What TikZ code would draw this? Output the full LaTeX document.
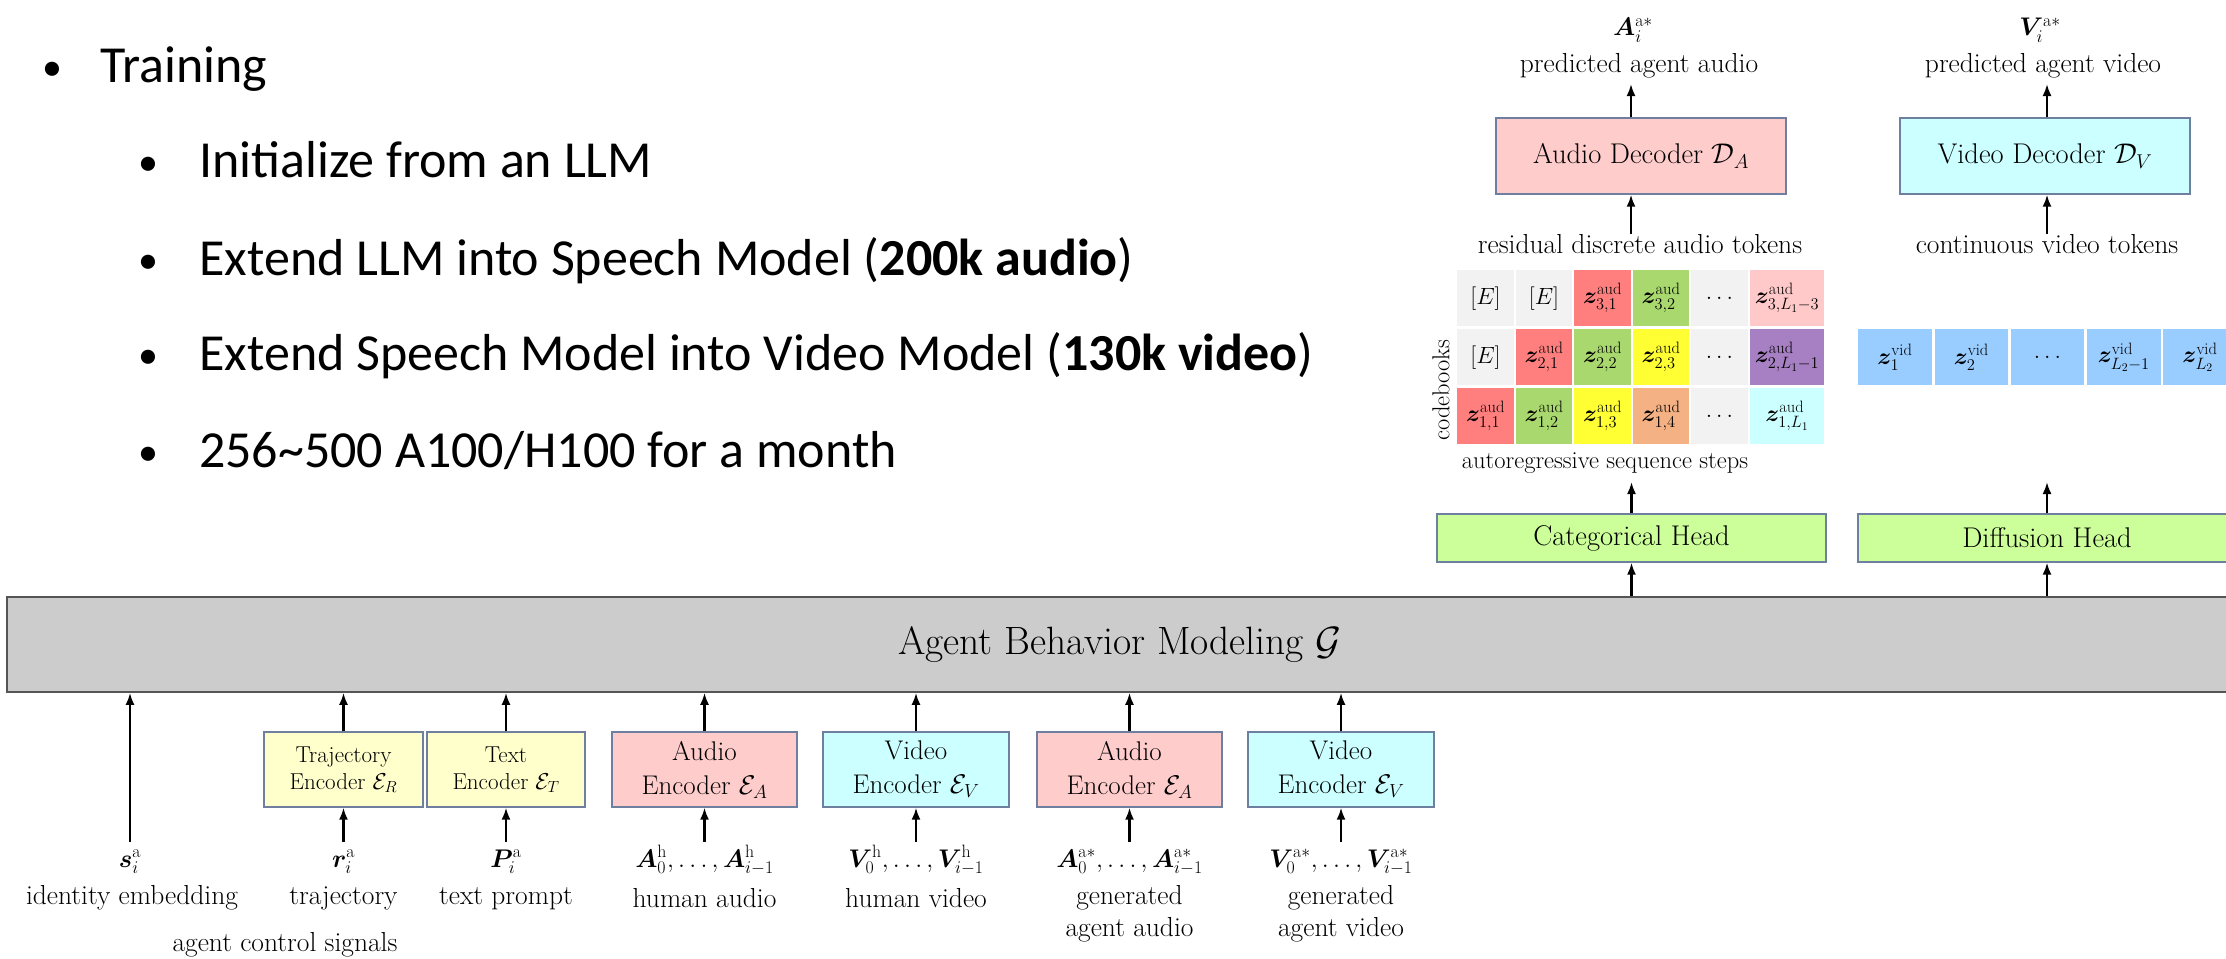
\RequirePackage{fix-cm}
\documentclass[tikz,border=0pt]{standalone}
\usepackage{amsmath}
\usepackage{bm}
\usepackage{fontspec}
\newfontfamily\slidefont{Carlito}
\usetikzlibrary{arrows.meta}

\definecolor{audpink}{HTML}{FFCCCC}
\definecolor{vidcyan}{HTML}{CCFFFF}
\definecolor{encyellow}{HTML}{FFFFCC}
\definecolor{headgreen}{HTML}{CCFF99}
\definecolor{bargray}{HTML}{CCCCCC}
\definecolor{baredge}{HTML}{555555}
\definecolor{boxedge}{HTML}{6F7F9F}
\definecolor{cellgray}{HTML}{F2F2F2}
\definecolor{cellred}{HTML}{FF7F7F}
\definecolor{cellgreen}{HTML}{A9D86E}
\definecolor{cellyellow}{HTML}{FFFF33}
\definecolor{cellorange}{HTML}{F4B183}
\definecolor{cellpink}{HTML}{FFC9C9}
\definecolor{cellpurple}{HTML}{A77FC3}
\definecolor{cellcyan}{HTML}{CCFFFF}
\definecolor{cellblue}{HTML}{99CCFF}

\newcommand{\labelfont}{\fontsize{27.5}{32}\selectfont}
\newcommand{\mathlabelfont}{\fontsize{25.5}{30}\selectfont}
\newcommand{\boxfont}{\fontsize{28.5}{34}\selectfont}
\newcommand{\encfont}{\fontsize{27}{34}\selectfont}
\newcommand{\trajfont}{\fontsize{23}{27}\selectfont}
\newcommand{\gridfont}{\fontsize{24.5}{28}\selectfont}
\newcommand{\cellfont}{\fontsize{23.5}{28}\selectfont}
\newcommand{\barfont}{\fontsize{39.5}{46}\selectfont}
\newcommand{\bulletfont}{\fontsize{52}{62}\selectfont\slidefont}
\newcommand{\dotfont}{\fontsize{40}{48}\selectfont\slidefont}

\begin{document}
\begin{tikzpicture}[x=1pt,y=-1pt,
  arr/.style={-{Latex[length=12pt,width=9pt]},line width=2.2pt},
  lbl/.style={anchor=base,font=\labelfont,inner sep=0pt},
  mlbl/.style={anchor=base,font=\mathlabelfont,inner sep=0pt},
  modbox/.style={draw=boxedge,line width=1.3pt,inner sep=0pt,align=center,font=\boxfont},
  encbox/.style={modbox,minimum height=75pt,font=\encfont},
  cell/.style={anchor=north west,inner sep=0pt,minimum width=56.5pt,minimum height=56pt,font=\cellfont},
  widecell/.style={cell,minimum width=74.5pt},
  vidcell/.style={anchor=north west,inner sep=0pt,minimum width=73.5pt,minimum height=56pt,font=\cellfont,fill=cellblue},
  bulletitem/.style={anchor=base west,inner sep=0pt,font=\bulletfont},
  bulletdot/.style={anchor=base,inner sep=0pt,font=\dotfont}]

\clip (0,0) rectangle (2226,958);
\fill[white] (0,0) rectangle (2226,958);

% ---------------- bullet list ----------------
\node[bulletdot] (d0) at (52,80) {\textbullet};
\node[bulletitem] (t0) at (100,82) {Training};
\node[bulletdot] (d1) at (148,175) {\textbullet};
\node[bulletitem] (t1) at (199,177) {Initialize from an LLM};
\node[bulletdot] (d2) at (148,273) {\textbullet};
\node[bulletitem] (t2) at (199,275) {Extend LLM into Speech Model (\textbf{200k audio})};
\node[bulletdot] (d3) at (148,368) {\textbullet};
\node[bulletitem] (t3) at (199,370) {Extend Speech Model into Video Model (\textbf{130k video})};
\node[bulletdot] (d4) at (148,465) {\textbullet};
\node[bulletitem] (t4) at (199,467) {256\textasciitilde500 A100/H100 for a month};

% ---------------- backbone ----------------
\node[draw=baredge,line width=1.6pt,fill=bargray,minimum width=2226pt,minimum height=95pt,
      inner sep=0pt,font=\barfont] (abm) at (1120,644.5) {Agent Behavior Modeling $\mathcal{G}$};

% ---------------- input encoders ----------------
\node[encbox,fill=encyellow,minimum width=159pt,font=\trajfont] (trajenc) at (343.5,769.5) {Trajectory\\Encoder $\mathcal{E}_R$};
\node[encbox,fill=encyellow,minimum width=158pt,font=\trajfont] (textenc) at (506,769.5) {Text\\Encoder $\mathcal{E}_T$};
\node[encbox,fill=audpink,minimum width=185pt] (audenca) at (704.5,769.5) {Audio\\Encoder $\mathcal{E}_A$};
\node[encbox,fill=vidcyan,minimum width=186pt] (videnca) at (916,769.5) {Video\\Encoder $\mathcal{E}_V$};
\node[encbox,fill=audpink,minimum width=185pt] (audencb) at (1129.5,769.5) {Audio\\Encoder $\mathcal{E}_A$};
\node[encbox,fill=vidcyan,minimum width=186pt] (videncb) at (1341,769.5) {Video\\Encoder $\mathcal{E}_V$};

% ---------------- input labels ----------------
\node[mlbl] (sid) at (130,867) {$\bm{s}_i^{\mathrm{a}}$};
\node[lbl] (sidtxt) at (132,904) {identity embedding};
\node[mlbl] (rtraj) at (343.5,867) {$\bm{r}_i^{\mathrm{a}}$};
\node[lbl] (rtrajtxt) at (343.5,904) {trajectory};
\node[mlbl] (ptext) at (506,867) {$\bm{P}_i^{\mathrm{a}}$};
\node[lbl] (ptexttxt) at (506,904) {text prompt};
\node[mlbl] (ahum) at (704.5,867) {$\bm{A}_0^{\mathrm{h}},\ldots,\bm{A}_{i-1}^{\mathrm{h}}$};
\node[lbl] (ahumtxt) at (704.5,907) {human audio};
\node[mlbl] (vhum) at (916,867) {$\bm{V}_0^{\mathrm{h}},\ldots,\bm{V}_{i-1}^{\mathrm{h}}$};
\node[lbl] (vhumtxt) at (916,907) {human video};
\node[mlbl] (agen) at (1129.5,867) {$\bm{A}_0^{\mathrm{a}*},\ldots,\bm{A}_{i-1}^{\mathrm{a}*}$};
\node[lbl] (agentxt) at (1129.5,904) {generated};
\node[lbl] (agentxtb) at (1129.5,936) {agent audio};
\node[mlbl] (vgen) at (1341,867) {$\bm{V}_0^{\mathrm{a}*},\ldots,\bm{V}_{i-1}^{\mathrm{a}*}$};
\node[lbl] (vgentxt) at (1341,904) {generated};
\node[lbl] (vgentxtb) at (1341,936) {agent video};
\node[lbl] (ctrl) at (285,951) {agent control signals};

% arrow tails just above the input labels
\coordinate (sidin) at (130,842);
\coordinate (trajin) at (343.5,842);
\coordinate (textin) at (506,842);
\coordinate (audina) at (704.5,842);
\coordinate (vidina) at (916,842);
\coordinate (audinb) at (1129.5,842);
\coordinate (vidinb) at (1341,842);

\draw[arr] (sidin) -- (sidin |- abm.south);
\foreach \e/\i in {trajenc/trajin,textenc/textin,audenca/audina,videnca/vidina,audencb/audinb,videncb/vidinb}{
  \draw[arr] (\i) -- (\e.south);
  \draw[arr] (\e.north) -- (\e.north |- abm.south);
}

% ---------------- output heads ----------------
\node[modbox,fill=headgreen,minimum width=389pt,minimum height=48pt] (cathead) at (1631.5,538) {Categorical Head};
\node[modbox,fill=headgreen,minimum width=378pt,minimum height=48pt] (diffhead) at (2047,538) {Diffusion Head};
\draw[arr] (abm.north -| cathead.south) -- (cathead.south);
\draw[arr] (abm.north -| diffhead.south) -- (diffhead.south);

% ---------------- audio token grid ----------------
% top codebook
\node[cell,fill=cellgray] (g31) at (1457,270) {$[E]$};
\node[cell,fill=cellgray] (g32) at (1515.5,270) {$[E]$};
\node[cell,fill=cellred] (g33) at (1574,270) {$\bm{z}^{\mathrm{aud}}_{3,1}$};
\node[cell,fill=cellgreen] (g34) at (1632.5,270) {$\bm{z}^{\mathrm{aud}}_{3,2}$};
\node[cell,fill=cellgray] (g35) at (1691,270) {$\ldots$};
\node[widecell,fill=cellpink] (g36) at (1749.5,270) {$\bm{z}^{\mathrm{aud}}_{3,L_1-3}$};
% middle codebook
\node[cell,fill=cellgray] (g21) at (1457,329) {$[E]$};
\node[cell,fill=cellred] (g22) at (1515.5,329) {$\bm{z}^{\mathrm{aud}}_{2,1}$};
\node[cell,fill=cellgreen] (g23) at (1574,329) {$\bm{z}^{\mathrm{aud}}_{2,2}$};
\node[cell,fill=cellyellow] (g24) at (1632.5,329) {$\bm{z}^{\mathrm{aud}}_{2,3}$};
\node[cell,fill=cellgray] (g25) at (1691,329) {$\ldots$};
\node[widecell,fill=cellpurple] (g26) at (1749.5,329) {$\bm{z}^{\mathrm{aud}}_{2,L_1-1}$};
% bottom codebook
\node[cell,fill=cellred] (g11) at (1457,388) {$\bm{z}^{\mathrm{aud}}_{1,1}$};
\node[cell,fill=cellgreen] (g12) at (1515.5,388) {$\bm{z}^{\mathrm{aud}}_{1,2}$};
\node[cell,fill=cellyellow] (g13) at (1574,388) {$\bm{z}^{\mathrm{aud}}_{1,3}$};
\node[cell,fill=cellorange] (g14) at (1632.5,388) {$\bm{z}^{\mathrm{aud}}_{1,4}$};
\node[cell,fill=cellgray] (g15) at (1691,388) {$\ldots$};
\node[widecell,fill=cellcyan] (g16) at (1749.5,388) {$\bm{z}^{\mathrm{aud}}_{1,L_1}$};

\node[rotate=90,font=\gridfont,inner sep=0pt] (cb) at (1441,390) {codebooks};
\node[anchor=base,font=\gridfont,inner sep=0pt] (ars) at (1605,468) {autoregressive sequence steps};
\coordinate (catout) at (1631.5,482);
\draw[arr] (cathead.north) -- (catout);

% ---------------- video token row ----------------
\node[vidcell] (v1) at (1858,329) {$\bm{z}^{\mathrm{vid}}_{1}$};
\node[vidcell] (v2) at (1934.3,329) {$\bm{z}^{\mathrm{vid}}_{2}$};
\node[vidcell] (v3) at (2010.5,329) {$\ldots$};
\node[vidcell] (v4) at (2086.8,329) {$\bm{z}^{\mathrm{vid}}_{L_2-1}$};
\node[vidcell] (v5) at (2163,329) {$\bm{z}^{\mathrm{vid}}_{L_2}$};
\coordinate (diffout) at (2047,482);
\draw[arr] (diffhead.north) -- (diffout);

% ---------------- decoders ----------------
\node[lbl] (audtoktxt) at (1640,253) {residual discrete audio tokens};
\node[lbl] (vidtoktxt) at (2047,253) {continuous video tokens};
\node[modbox,fill=audpink,minimum width=290pt,minimum height=76pt] (audec) at (1641,156) {Audio Decoder $\mathcal{D}_A$};
\node[modbox,fill=vidcyan,minimum width=290pt,minimum height=76pt] (vidDec) at (2045,156) {Video Decoder $\mathcal{D}_V$};
\coordinate (audtok) at (1631,234);
\coordinate (vidtok) at (2047,234);
\draw[arr] (audtok) -- (audtok |- audec.south);
\draw[arr] (vidtok) -- (vidtok |- vidDec.south);

\node[lbl] (apredtxt) at (1639,72) {predicted agent audio};
\node[mlbl] (apred) at (1633,36) {$\bm{A}_i^{\mathrm{a}*}$};
\node[lbl] (vpredtxt) at (2043,72) {predicted agent video};
\node[mlbl] (vpred) at (2040,36) {$\bm{V}_i^{\mathrm{a}*}$};
\coordinate (audout) at (1631,84);
\coordinate (vidout) at (2047,84);
\draw[arr] (audec.north -| audout) -- (audout);
\draw[arr] (vidDec.north -| vidout) -- (vidout);

\end{tikzpicture}
\end{document}
